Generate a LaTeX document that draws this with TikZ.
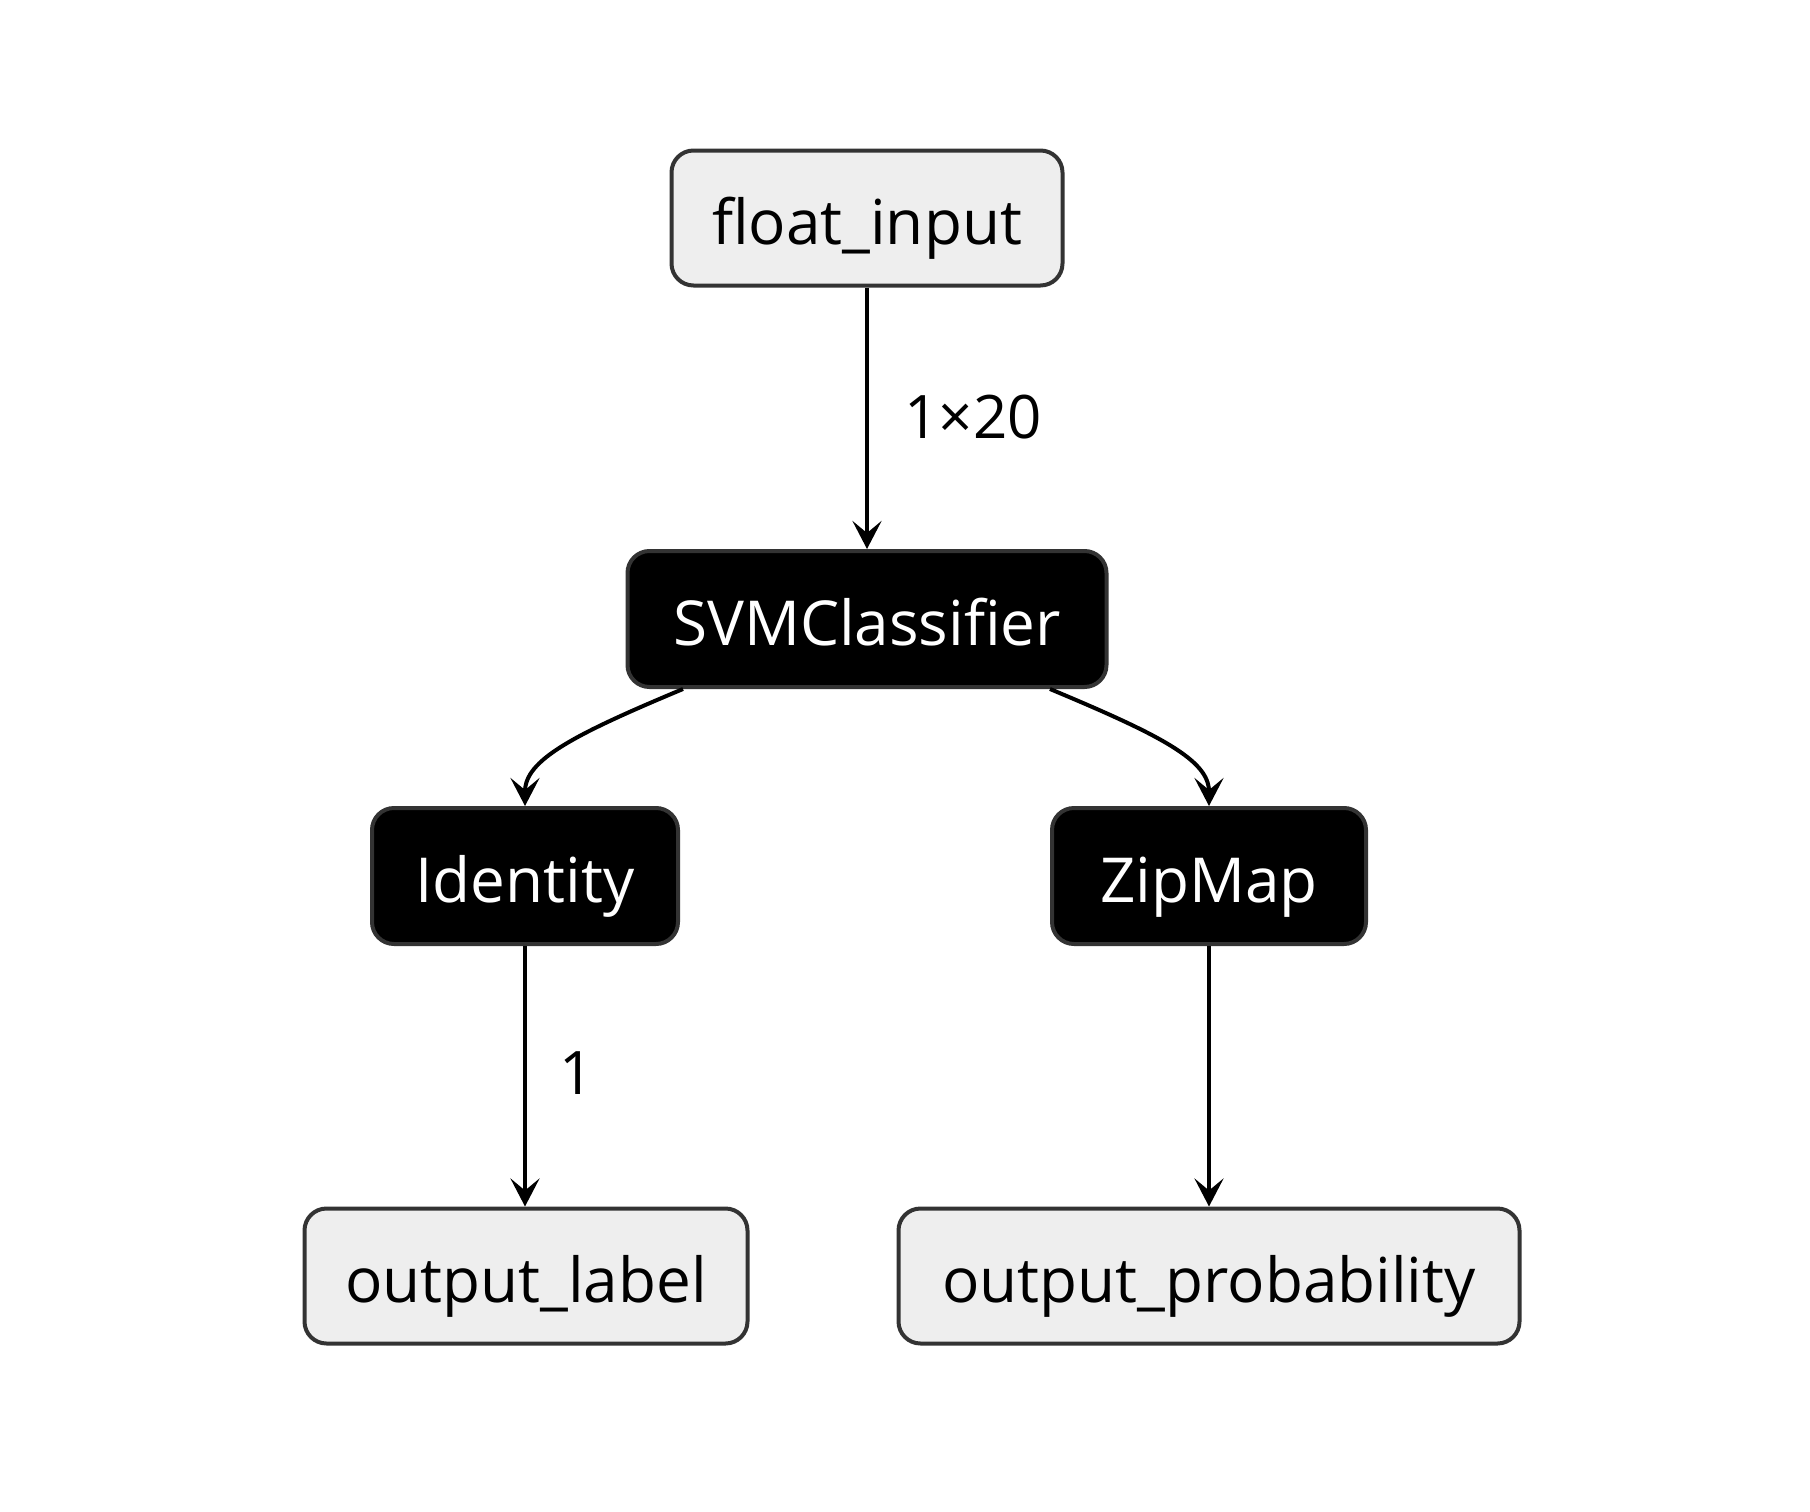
\documentclass[tikz,border=0pt]{standalone}
\usepackage{fontspec}
\setmainfont{Open Sans}
\usetikzlibrary{arrows.meta}
\definecolor{lightfill}{HTML}{EEEEEE}
\definecolor{edgegray}{HTML}{333333}
\tikzset{
  basebox/.style={draw=edgegray, line width=4pt, rounded corners=22pt, inner sep=0pt,
    text height=53pt, text depth=0pt,
    font=\fontsize{62}{74}\selectfont},
  iobox/.style={basebox, fill=lightfill, text=black},
  opbox/.style={basebox, fill=black, text=white},
  conn/.style={line width=4pt, draw=black, -{Stealth[length=28pt,width=29pt,inset=12pt]}},
  elabel/.style={font=\fontsize{60}{70}\selectfont, text=black, inner sep=0pt}
}
\begin{document}
\begin{tikzpicture}[x=1pt,y=-1pt]
\useasboundingbox (0,0) rectangle (1810,1512);
\node[iobox, minimum width=391pt, minimum height=135pt] (fin) at (867,218) {float\_input};
\node[opbox, minimum width=479pt, minimum height=136pt] (svm) at (867,619) {SVMClassifier};
\node[opbox, minimum width=306pt, minimum height=136pt] (ident) at (525,876) {Identity};
\node[opbox, minimum width=314pt, minimum height=136pt] (zip) at (1209,876) {ZipMap};
\node[iobox, minimum width=443pt, minimum height=135pt] (olab) at (526,1276) {output\_label};
\node[iobox, minimum width=621pt, minimum height=135pt] (oprob) at (1209,1276) {output\_probability};

\draw[conn] (fin.south) -- (svm.north);
\node[elabel] (l1) at (973,417) {1×20};
\draw[conn] ([xshift=-184pt]svm.south) .. controls +(-110,46) and +(0,-46) .. (ident.north);
\draw[conn] ([xshift=183pt]svm.south) .. controls +(110,46) and +(0,-46) .. (zip.north);
\draw[conn] (ident.south) -- (olab.north -| ident.south);
\node[elabel] (l2) at (577,1073) {1};
\draw[conn] (zip.south) -- (oprob.north -| zip.south);
\end{tikzpicture}
\end{document}
